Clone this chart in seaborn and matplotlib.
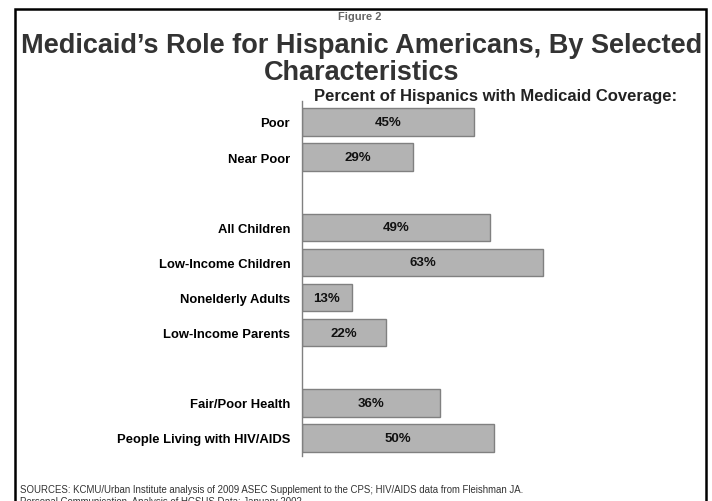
import matplotlib
matplotlib.use("Agg")
import matplotlib.pyplot as plt
from matplotlib.patches import Rectangle
import seaborn as sns
import pandas as pd

# Data
groups = ["Poor", "Near Poor", "All Children", "Low-Income Children",
          "Nonelderly Adults", "Low-Income Parents", "Fair/Poor Health",
          "People Living with HIV/AIDS"]
pct = [45, 29, 49, 63, 13, 22, 36, 50]
# display order, with blank spacer rows between the three blocks
order = ["Poor", "Near Poor", " ", "All Children", "Low-Income Children",
         "Nonelderly Adults", "Low-Income Parents", "  ", "Fair/Poor Health",
         "People Living with HIV/AIDS"]

title_small = "Figure 2"
title_line1 = "Medicaid\u2019s Role for Hispanic Americans, By Selected"
title_line2 = "Characteristics"
subtitle = "Percent of Hispanics with Medicaid Coverage:"
sources = ("SOURCES: KCMU/Urban Institute analysis of 2009 ASEC Supplement to the CPS; HIV/AIDS data from Fleishman JA.\n"
           "Personal Communication, Analysis of HCSUS Data; January 2002.")

df = pd.DataFrame({"group": groups, "pct": pct})

sns.set_theme(style="white")
plt.rcParams["font.family"] = ["Liberation Sans", "DejaVu Sans"]

W, H = 712, 502
fig = plt.figure(figsize=(W / 100, H / 100), dpi=100)
fig.patch.set_facecolor("white")

# axes placement in pixels
x0, x1 = 302, 685
y_top, y_bot = 101.9, 456.9
ax = fig.add_axes([x0 / W, 1 - y_bot / H, (x1 - x0) / W, (y_bot - y_top) / H])

sns.barplot(data=df, x="pct", y="group", order=order, orient="h",
            color="#b3b3b3", saturation=1, width=0.78,
            edgecolor="#808080", linewidth=1.0, ax=ax)

ax.set_xlim(0, 100)
ax.set_ylim(9.51, -0.6)
ax.set_xlabel("")
ax.set_ylabel("")
ax.set_xticks([])
for s in ["top", "right", "bottom"]:
    ax.spines[s].set_visible(False)
ax.spines["left"].set_color("#808080")
ax.spines["left"].set_linewidth(1.0)
ax.tick_params(axis="y", length=0, pad=8.5)
for lab in ax.get_yticklabels():
    lab.set_fontweight("bold")
    lab.set_fontsize(9.4)
    lab.set_color("black")

# value labels centred in each bar
for c in ax.containers:
    ax.bar_label(c, labels=[f"{v:.0f}%" for v in c.datavalues],
                 label_type="center", fontsize=9.5, fontweight="bold", color="#111111")

# frame around the slide
fig.add_artist(Rectangle((15 / W, -0.05), (706 - 15) / W, 1.05 - 10 / H,
                         transform=fig.transFigure, fill=False,
                         edgecolor="black", linewidth=1.8))

fig.text(360 / W, 1 - 17 / H, title_small, ha="center", va="center",
         fontsize=8, fontweight="bold", color="#666666")
fig.text(362 / W, 1 - 53 / H, title_line1, ha="center", va="baseline",
         fontsize=19.5, fontweight="bold", color="#333333")
fig.text(362 / W, 1 - 80 / H, title_line2, ha="center", va="baseline",
         fontsize=19.5, fontweight="bold", color="#333333")
fig.text(496 / W, 1 - 97 / H, subtitle, ha="center", va="center",
         fontsize=12, fontweight="bold", color="#222222")
fig.text(20 / W, 1 - 485 / H, sources, ha="left", va="top",
         fontsize=6.9, color="#333333", linespacing=1.2)

fig.savefig("out.png", dpi=100, facecolor="white")
